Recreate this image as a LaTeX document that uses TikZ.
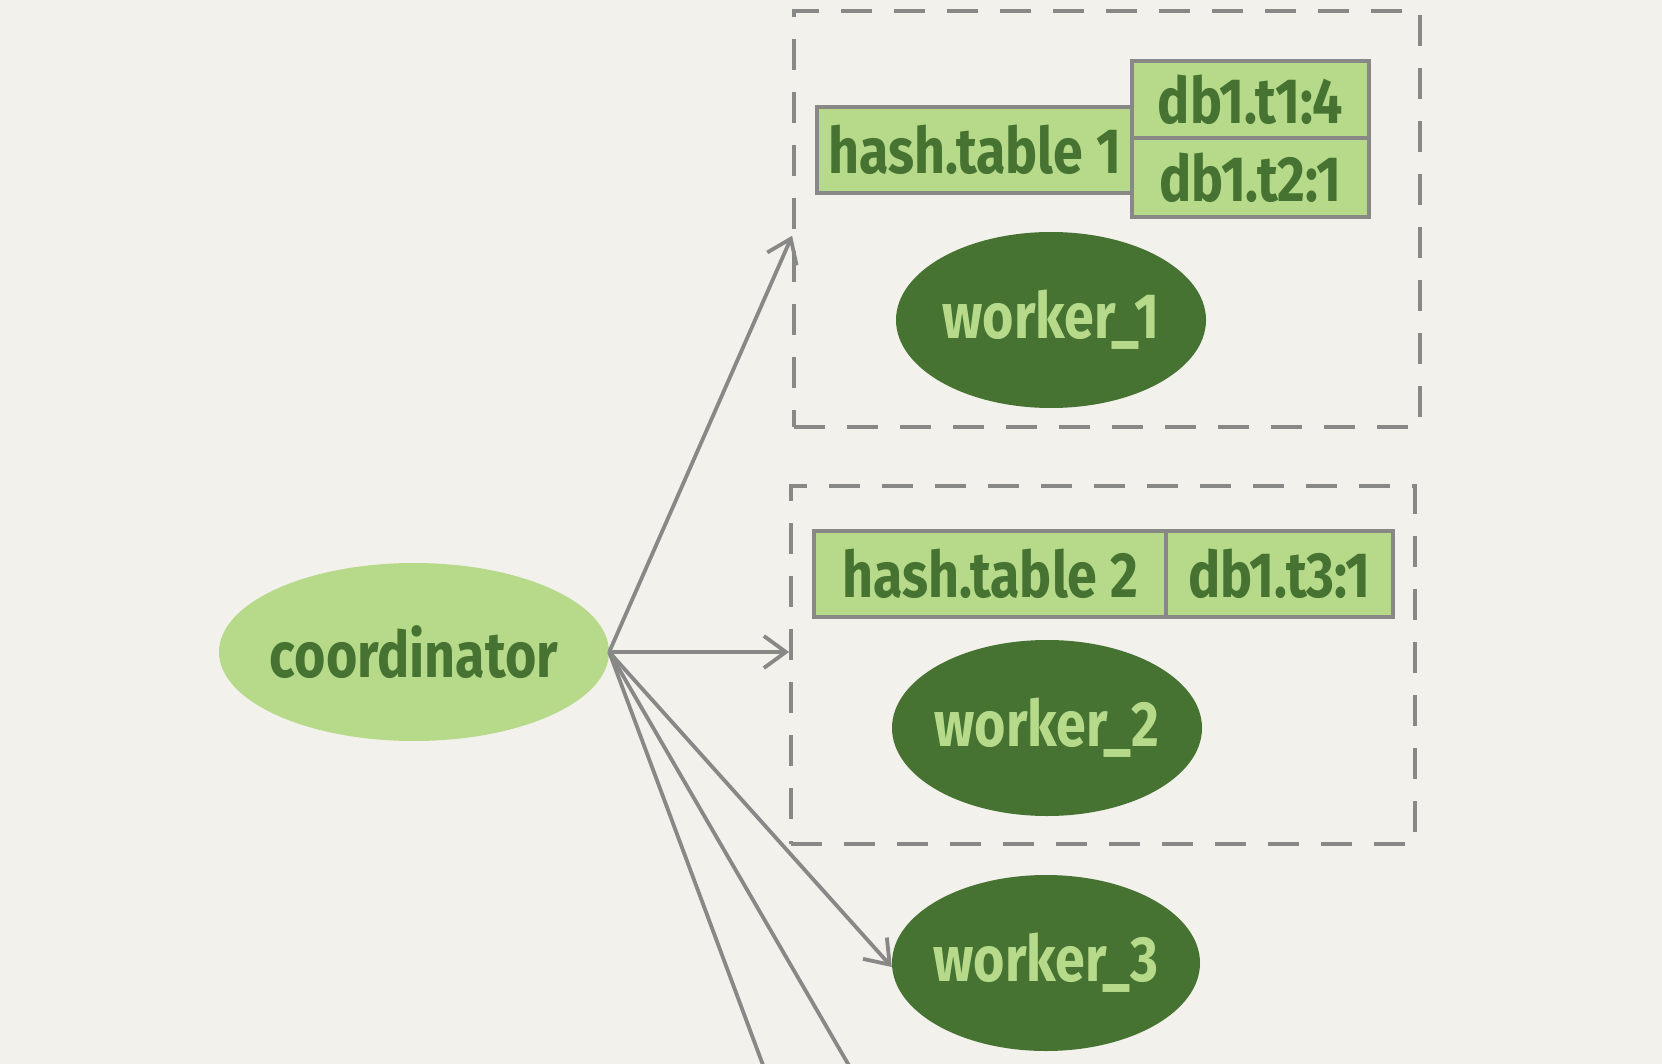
\documentclass[tikz,border=0pt]{standalone}
\usepackage{fontspec}
\usetikzlibrary{arrows.meta,shapes.geometric,calc}
\newfontfamily\hand{Fira Sans}[FakeStretch=0.84]
\definecolor{bg}{HTML}{F3F1EB}
\definecolor{lightg}{HTML}{B6DA89}
\definecolor{darkg}{HTML}{467332}
\definecolor{edge}{HTML}{888886}
\tikzset{
  txt/.style={font=\hand\bfseries\fontsize{64}{64}\selectfont},
  lightell/.style={ellipse, fill=lightg, text=darkg, inner sep=0pt, txt},
  darkell/.style={ellipse, fill=darkg, text=lightg, inner sep=0pt, txt},
  cell/.style={rectangle, draw=edge, line width=3.5pt, fill=lightg, text=darkg, inner sep=0pt, txt},
  group/.style={rectangle, draw=edge, line width=3.8pt, dash pattern=on 31pt off 22pt, inner sep=0pt},
  link/.style={draw=edge, line width=3.8pt},
  arr/.style={link, -{Straight Barb[length=22pt,width=32pt,line width=3.8pt]}},
}
% label set in a box of no width, so that the ellipse keeps its given size
\newcommand{\nowidth}[1]{\makebox[0pt]{#1}}
\begin{document}
\begin{tikzpicture}[x=1pt,y=-1pt]
  \fill[bg] (0,0) rectangle (1662,1064);
  \useasboundingbox (0,0) rectangle (1662,1064);
  \clip (0,0) rectangle (1662,1064);

  % dashed groups
  \node[group, minimum width=626pt, minimum height=416pt] (box1) at (1107,219) {};
  \node[group, minimum width=624pt, minimum height=358pt] (box2) at (1103,665) {};

  % hash table of worker 1
  \node[cell, minimum width=315pt, minimum height=86pt] (ht1) at (974.5,150) {hash.table 1};
  \node[cell, minimum width=237pt, minimum height=77pt] (t1) at (1250.5,99.5) {db1.t1:4};
  \node[cell, minimum width=237pt, minimum height=79pt] (t2) at (1250.5,177.5) {db1.t2:1};

  % hash table of worker 2
  \node[cell, minimum width=352pt, minimum height=86pt] (ht2) at (990,574) {hash.table 2};
  \node[cell, minimum width=227pt, minimum height=86pt] (t3) at (1279.5,574) {db1.t3:1};

  % workers
  \node[darkell, minimum width=310pt, minimum height=176pt] (w1) at (1051,320) {\nowidth{worker\_1}};
  \node[darkell, minimum width=310pt, minimum height=176pt] (w2) at (1047,728) {\nowidth{worker\_2}};
  \node[darkell, minimum width=308pt, minimum height=176pt] (w3) at (1046,963) {\nowidth{worker\_3}};

  % coordinator
  \node[lightell, minimum width=390pt, minimum height=178pt] (co) at (414,652) {\nowidth{coordinator}};

  % workers further down
  \coordinate (w4) at (776,1100);
  \coordinate (w5) at (869,1100);

  \draw[arr] (co.east) -- ($(box1.north west)!0.54!(box1.south west)$);
  \draw[arr] (co.east) -- (box2.west |- co.east);
  \draw[arr] (co.east) -- ([yshift=-4pt]w3.west);
  \draw[link] (co.east) -- (w4);
  \draw[link] (co.east) -- (w5);
\end{tikzpicture}
\end{document}
